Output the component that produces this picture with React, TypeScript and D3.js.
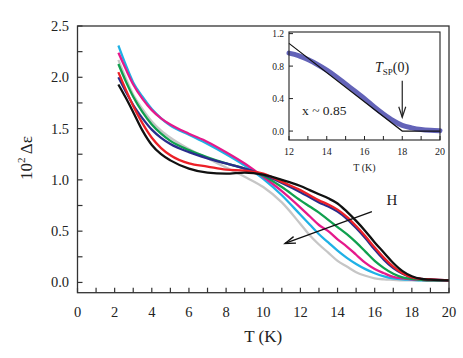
import React from 'react';
import * as d3 from 'd3';

const W = 463;
const H = 358;

// temperatures (K) at which the curves were read
const temps = [2.2, 2.6, 3, 3.5, 4, 4.5, 5, 6, 7, 8, 9, 10, 11, 12, 12.5, 13, 13.5, 14, 14.5, 15, 15.5, 16, 16.5, 17, 17.5, 18, 18.5, 19, 20];

const black = [1.93, 1.8, 1.66, 1.48, 1.34, 1.25, 1.19, 1.11, 1.07, 1.06, 1.07, 1.05, 1.0, 0.94, 0.9, 0.86, 0.82, 0.77, 0.69, 0.6, 0.5, 0.39, 0.29, 0.19, 0.11, 0.06, 0.035, 0.027, 0.02];
const red = [2.05, 1.88, 1.72, 1.55, 1.41, 1.31, 1.24, 1.16, 1.13, 1.1, 1.09, 1.06, 0.98, 0.9, 0.85, 0.8, 0.76, 0.71, 0.64, 0.55, 0.45, 0.34, 0.24, 0.155, 0.09, 0.05, 0.035, 0.03, 0.02];
const navy = [2.0, 1.86, 1.73, 1.6, 1.49, 1.41, 1.35, 1.27, 1.21, 1.16, 1.11, 1.05, 0.97, 0.88, 0.83, 0.78, 0.74, 0.69, 0.62, 0.53, 0.43, 0.32, 0.22, 0.14, 0.085, 0.05, 0.035, 0.03, 0.02];
const green = [2.13, 1.96, 1.81, 1.66, 1.54, 1.45, 1.38, 1.29, 1.22, 1.16, 1.11, 1.04, 0.93, 0.8, 0.74, 0.68, 0.61, 0.54, 0.47, 0.39, 0.3, 0.21, 0.14, 0.085, 0.05, 0.035, 0.025, 0.02, 0.02];
const magenta = [2.24, 2.08, 1.93, 1.79, 1.68, 1.6, 1.54, 1.45, 1.37, 1.27, 1.16, 1.03, 0.89, 0.73, 0.645, 0.56, 0.5, 0.42, 0.35, 0.27, 0.19, 0.13, 0.09, 0.055, 0.04, 0.03, 0.025, 0.02, 0.02];
const cyan = [2.31, 2.12, 1.95, 1.81, 1.69, 1.6, 1.53, 1.44, 1.35, 1.25, 1.14, 1.01, 0.85, 0.66, 0.565, 0.47, 0.39, 0.31, 0.24, 0.18, 0.13, 0.09, 0.06, 0.04, 0.03, 0.025, 0.02, 0.02, 0.02];
const gray = [2.17, 1.99, 1.83, 1.69, 1.57, 1.48, 1.41, 1.3, 1.21, 1.12, 1.03, 0.93, 0.78, 0.57, 0.46, 0.37, 0.29, 0.21, 0.155, 0.1, 0.065, 0.04, 0.03, 0.025, 0.02, 0.02, 0.02, 0.02, 0.02];

const series = [
  { name: 'gray', color: '#c6c6c6', values: gray },
  { name: 'cyan', color: '#1fb1e6', values: cyan },
  { name: 'magenta', color: '#e5198b', values: magenta },
  { name: 'green', color: '#10a04e', values: green },
  { name: 'navy', color: '#2a2d8c', values: navy },
  { name: 'red', color: '#ec2027', values: red },
  { name: 'black', color: '#111111', values: black },
];

const xTicks = [0, 2, 4, 6, 8, 10, 12, 14, 16, 18, 20];
const yTicks = [0.0, 0.5, 1.0, 1.5, 2.0, 2.5];

// inset: x ~ 0.85, zero field curve and its fit
const insetTemps = [12, 12.5, 13, 13.5, 14, 14.5, 15, 15.5, 16, 16.5, 17, 17.5, 18, 18.5, 19, 19.5, 20];
const insetValues = [0.96, 0.93, 0.88, 0.82, 0.75, 0.67, 0.58, 0.49, 0.4, 0.3, 0.21, 0.13, 0.07, 0.04, 0.02, 0.01, 0.005];
const fitTemps = [12, 18, 20];
const fitValues = [1.08, 0.0, 0.0];
const insetXTicks = [12, 14, 16, 18, 20];
const insetYTicks = [0.0, 0.4, 0.8, 1.2];

// field arrow (data units)
const arrowFrom = [15.85, 0.69];
const arrowTo = [11.17, 0.38];

const FONT = '"Liberation Serif", "Times New Roman", Times, serif';

export default function App() {
  const x = d3.scaleLinear().domain([0, 20]).range([77.5, 449]);
  const y = d3.scaleLinear().domain([-0.1, 2.5]).range([292.7, 26]);

  const line = d3
    .line<[number, number]>()
    .x((d) => x(d[0]))
    .y((d) => y(d[1]))
    .curve(d3.curveMonotoneX);

  const ix = d3.scaleLinear().domain([12, 20]).range([289, 440]);
  const iy = d3.scaleLinear().domain([-0.11, 1.22]).range([140, 32]);
  const iline = d3
    .line<[number, number]>()
    .x((d) => ix(d[0]))
    .y((d) => iy(d[1]))
    .curve(d3.curveMonotoneX);
  const flin = d3
    .line<[number, number]>()
    .x((d) => ix(d[0]))
    .y((d) => iy(d[1]));

  const [x0, x1] = x.range();
  const [yb, yt] = y.range();
  const minorX = d3.range(0, 21, 1);
  const minorY = d3.range(0, 2.51, 0.25);

  const ax = [x(arrowFrom[0]), y(arrowFrom[1])];
  const bx = [x(arrowTo[0]), y(arrowTo[1])];
  const ang = Math.atan2(bx[1] - ax[1], bx[0] - ax[0]);
  const hl = 11;
  const hw = 0.32;
  const head = [
    [bx[0] - hl * Math.cos(ang - hw), bx[1] - hl * Math.sin(ang - hw)],
    [bx[0], bx[1]],
    [bx[0] - hl * Math.cos(ang + hw), bx[1] - hl * Math.sin(ang + hw)],
  ];

  const [ix0, ix1] = ix.range();
  const [iyb, iyt] = iy.range();

  return (
    <svg width={W} height={H} style={{ position: 'absolute', left: 0, top: 0, fontFamily: FONT }}>
      <rect width={W} height={H} fill="#fff" />

      {/* curves */}
      <g fill="none" strokeWidth={2.3} strokeLinejoin="round">
        {series.map((s) => (
          <path
            key={s.name}
            d={line(temps.map((t, i) => [t, s.values[i]]) as [number, number][]) || ''}
            stroke={s.color}
          />
        ))}
      </g>

      {/* frame */}
      <rect x={x0} y={yt} width={x1 - x0} height={yb - yt} fill="none" stroke="#333" strokeWidth={1.3} />

      {/* x ticks */}
      {minorX.map((t) => (
        <line key={'mx' + t} x1={x(t)} x2={x(t)} y1={yb} y2={yb - 5} stroke="#333" strokeWidth={1.2} />
      ))}
      {xTicks.map((t) => (
        <text key={'xl' + t} x={x(t)} y={317} textAnchor="middle" fontSize={14.5} fill="#222">
          {t}
        </text>
      ))}
      {/* y ticks */}
      {minorY.map((v) => (
        <line key={'my' + v} x1={x0} x2={x0 + 5} y1={y(v)} y2={y(v)} stroke="#333" strokeWidth={1.2} />
      ))}
      {yTicks.map((v) => (
        <text key={'yl' + v} x={69} y={y(v) + 5} textAnchor="end" fontSize={14.5} fill="#222">
          {v.toFixed(1)}
        </text>
      ))}

      {/* axis titles */}
      <text x={(x0 + x1) / 2} y={342} textAnchor="middle" fontSize={17} fill="#222">
        T (K)
      </text>
      <text transform="translate(32,158) rotate(-90)" textAnchor="middle" fontSize={17} fill="#222">
        10<tspan fontSize={11} dy={-7}>2</tspan>
        <tspan dy={7}> Δε</tspan>
      </text>

      {/* field arrow */}
      <line x1={ax[0]} y1={ax[1]} x2={bx[0]} y2={bx[1]} stroke="#111" strokeWidth={1.3} />
      <polyline points={head.map((p) => p.join(',')).join(' ')} fill="none" stroke="#111" strokeWidth={1.3} />
      <text x={392} y={205} textAnchor="middle" fontSize={15} fill="#222">
        H
      </text>

      {/* inset */}
      <rect x={ix0} y={iyt} width={ix1 - ix0} height={iyb - iyt} fill="#fff" />
      <path
        d={iline(insetTemps.map((t, i) => [t, insetValues[i]]) as [number, number][]) || ''}
        fill="none"
        stroke="#5252b0"
        strokeOpacity={0.9}
        strokeWidth={5}
        strokeLinecap="round"
      />
      <path
        d={flin(fitTemps.map((t, i) => [t, fitValues[i]]) as [number, number][]) || ''}
        fill="none"
        stroke="#111"
        strokeWidth={1.2}
      />
      <rect x={ix0} y={iyt} width={ix1 - ix0} height={iyb - iyt} fill="none" stroke="#222" strokeWidth={1.1} />
      {d3.range(12, 20.01, 1).map((t) => (
        <line key={'ixt' + t} x1={ix(t)} x2={ix(t)} y1={iyb} y2={iyb - 4} stroke="#222" strokeWidth={1} />
      ))}
      {insetXTicks.map((t) => (
        <text key={'ixl' + t} x={ix(t)} y={155} textAnchor="middle" fontSize={10} fill="#222">
          {t}
        </text>
      ))}
      {insetYTicks.map((v) => (
        <line key={'iyt' + v} x1={ix0} x2={ix0 + 4} y1={iy(v)} y2={iy(v)} stroke="#222" strokeWidth={1} />
      ))}
      {insetYTicks.map((v) => (
        <text key={'iyl' + v} x={284} y={iy(v) + 3.5} textAnchor="end" fontSize={9.5} fill="#222">
          {v.toFixed(1)}
        </text>
      ))}
      <text x={(ix0 + ix1) / 2} y={171} textAnchor="middle" fontSize={10} fill="#222">
        T (K)
      </text>
      <text x={302} y={115} fontSize={13.5} fill="#222">
        x ~ 0.85
      </text>
      <text x={375} y={72} fontSize={14} fill="#222">
        <tspan fontStyle="italic">T</tspan>
        <tspan fontSize={9} dy={3}>SP</tspan>
        <tspan dy={-3}>(0)</tspan>
      </text>
      <line x1={ix(18)} x2={ix(18)} y1={iy(0.62)} y2={iy(0.17)} stroke="#222" strokeWidth={1.2} />
      <polyline
        points={`${ix(18) - 3.5},${iy(0.3)} ${ix(18)},${iy(0.17)} ${ix(18) + 3.5},${iy(0.3)}`}
        fill="none"
        stroke="#222"
        strokeWidth={1.2}
      />
    </svg>
  );
}
